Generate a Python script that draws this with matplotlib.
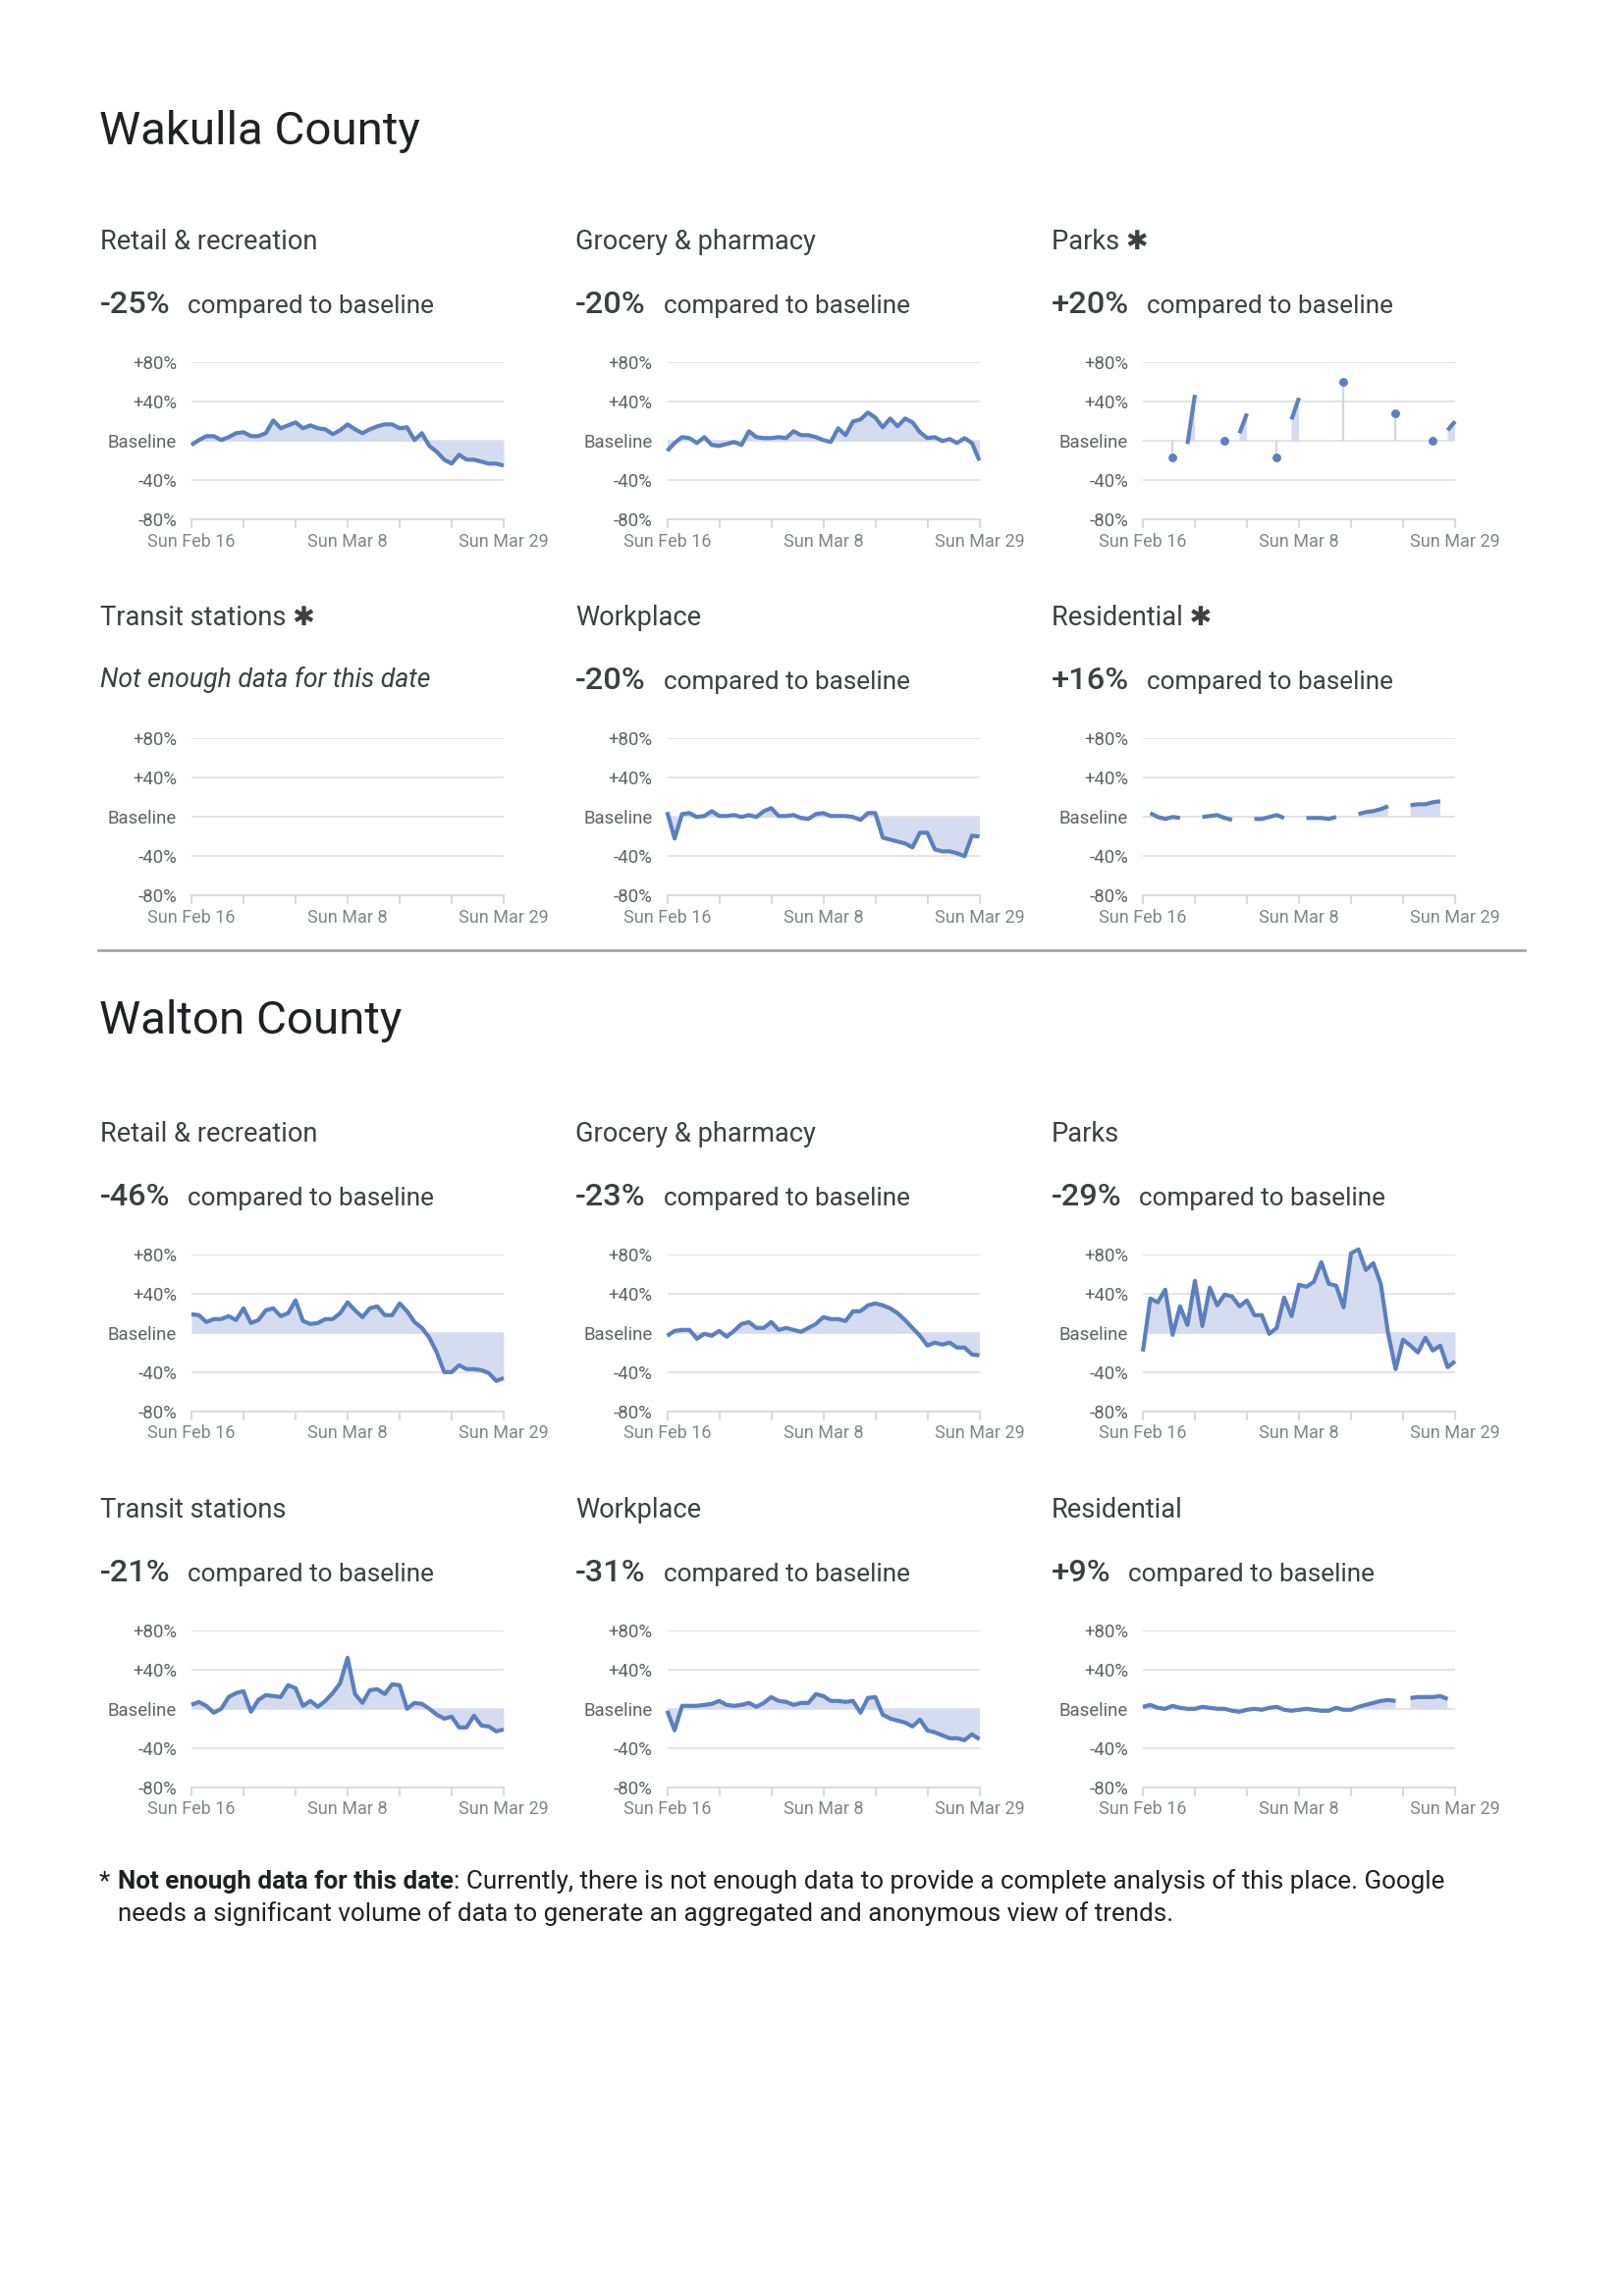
import matplotlib
matplotlib.use('Agg')
import matplotlib.pyplot as plt
from matplotlib.lines import Line2D
import numpy as np
import pandas as pd

nan = np.nan

# ---------------- data ----------------
dates = pd.date_range('2020-02-16', '2020-03-29', freq='D')
xtick_labels = ["Sun Feb 16", "", "", "Sun Mar 8", "", "", "Sun Mar 29"]
ytick_values = [80, 40, 0, -40, -80]
ytick_labels = ["+80%", "+40%", "Baseline", "-40%", "-80%"]

counties = ["Wakulla County", "Walton County"]
categories = ["Retail & recreation", "Grocery & pharmacy", "Parks",
              "Transit stations", "Workplace", "Residential"]

wakulla_flags = [False, False, True, True, False, True]
wakulla_headline = ["-25%", "-20%", "+20%", None, "-20%", "+16%"]
walton_flags = [False, False, False, False, False, False]
walton_headline = ["-46%", "-23%", "-29%", "-21%", "-31%", "+9%"]

wakulla_retail = [-4, 1, 5, 5, 1, 4, 8, 9, 5, 5, 8, 21, 13, 16, 19, 13, 16, 13, 12, 7,
                  11, 17, 12, 8, 12, 15, 17, 17, 13, 14, 1, 8, -5, -11, -19, -23, -14,
                  -19, -19, -21, -23, -23, -25]
wakulla_grocery = [-10, -2, 4, 3, -2, 4, -4, -5, -3, -1, -4, 10, 4, 3, 3, 4, 3, 10, 6, 6,
                   4, 1, -1, 13, 6, 20, 22, 29, 24, 14, 23, 15, 23, 19, 9, 3, 4, 0, 2,
                   -2, 3, -2, -20]
wakulla_parks = [nan, nan, nan, nan, -17, nan, -3, 47, nan, nan, nan, 0, nan, 8, 28,
                 nan, nan, nan, -17, nan, 22, 44, nan, nan, nan, nan, nan, 60, nan, nan,
                 nan, nan, nan, nan, 28, nan, nan, nan, nan, 0, nan, 11, 20]
wakulla_transit = None
wakulla_workplace = [5, -22, 3, 4, 0, 1, 6, 1, 1, 2, 0, 2, 0, 6, 9, 1, 1, 2, -1, -2,
                     3, 4, 1, 1, 1, 0, -3, 4, 4, -21, -23, -25, -27, -31, -16, -16, -33,
                     -35, -35, -37, -40, -19, -20]
wakulla_residential = [nan, 4, 0, -2, 0, -1, nan, nan, 0, 1, 2, -1, -3, nan, nan, -2, -2,
                       0, 2, -1, nan, nan, -1, -1, -1, -2, 0, nan, nan, 3, 5, 6, 8, 11,
                       nan, nan, 12, 13, 13, 15, 16, nan, nan]

walton_retail = [19, 18, 11, 14, 14, 17, 13, 25, 10, 13, 23, 25, 17, 20, 33, 12, 9, 10,
                 14, 14, 20, 31, 23, 16, 25, 27, 18, 18, 30, 22, 11, 5, -5, -20, -40,
                 -40, -33, -37, -37, -38, -41, -49, -46]
walton_grocery = [-3, 2, 3, 3, -6, -1, -3, 2, -4, 2, 9, 11, 5, 5, 11, 3, 5, 3, 1, 5, 9,
                  16, 14, 14, 12, 22, 22, 28, 30, 28, 25, 20, 13, 5, -3, -13, -10, -12,
                  -10, -15, -15, -22, -23]
walton_parks = [-19, 35, 31, 44, -2, 27, 8, 53, 7, 46, 28, 39, 37, 27, 33, 18, 18, -1, 5,
                36, 17, 49, 47, 52, 72, 50, 48, 26, 81, 85, 64, 71, 50, -1, -37, -7, -13,
                -20, -5, -18, -13, -35, -29]
walton_transit = [4, 7, 3, -4, 0, 12, 16, 18, -3, 9, 14, 13, 12, 24, 21, 3, 8, 2, 8, 16,
                  26, 52, 15, 6, 19, 20, 15, 25, 24, 0, 6, 5, 0, -6, -10, -8, -19, -19,
                  -7, -17, -18, -23, -21]
walton_workplace = [-2, -22, 3, 3, 3, 4, 5, 8, 4, 3, 4, 6, 2, 6, 12, 8, 7, 4, 6, 6, 15,
                    13, 8, 8, 7, 8, -4, 11, 12, -6, -10, -12, -14, -18, -11, -22, -24,
                    -27, -30, -30, -32, -26, -31]
walton_residential = [2, 4, 1, 0, 3, 1, 0, 0, 2, 1, 0, 0, -2, -3, -1, 0, -1, 1, 2, -1,
                      -2, -1, 0, -1, -2, -2, 1, -1, -1, 2, 4, 6, 8, 9, 8, nan, 11, 12, 12,
                      12, 13, 10, nan]

wakulla_series = [wakulla_retail, wakulla_grocery, wakulla_parks, wakulla_transit,
                  wakulla_workplace, wakulla_residential]
walton_series = [walton_retail, walton_grocery, walton_parks, walton_transit,
                 walton_workplace, walton_residential]

footnote_bold = "Not enough data for this date"
footnote_rest1 = (": Currently, there is not enough data to provide a complete analysis "
                  "of this place. Google")
footnote_line2 = ("needs a significant volume of data to generate an aggregated and "
                  "anonymous view of trends.")
no_data_text = "Not enough data for this date"

# ---------------- style ----------------
W, H, DPI = 1653, 2339, 200
LINE = '#5b80c1'
FILL = '#d6dcf0'
STEM = '#cfd6ec'
GRID = '#dadce0'
DARK = '#202124'
TXT = '#3c4043'
YLAB = '#5f6368'
XLAB = '#80868b'
FAM = ['Roboto', 'DejaVu Sans']

plt.rcParams['font.family'] = FAM

fig = plt.figure(figsize=(W / DPI, H / DPI), dpi=DPI)
fig.patch.set_facecolor('white')
renderer = fig.canvas.get_renderer()


def fx(x):
    return x / W


def fy(y):
    return 1 - y / H


def put(x, y, s, **kw):
    return fig.text(fx(x), fy(y), s, va='baseline', ha='left', **kw)


def text_width(t):
    return t.get_window_extent(renderer=renderer).width


COL_X = [0, 484.5, 969]
AX_X0, AX_W, AX_H = 195, 318, 160
SECTION_OFF = [0, 908.5]
ROW_TOP = [369.3, 752.3]


def draw_chart(ax, vals):
    for g in [80, 40, 0, -40]:
        ax.axhline(g, color=GRID, lw=0.55, zorder=0)
    if vals is not None:
        y = np.array(vals, dtype=float)
        ok = ~np.isnan(y)
        ax.fill_between(dates, y, 0, where=ok, color=FILL, lw=0, zorder=1)
        ax.plot(dates, y, color=LINE, lw=1.5, zorder=3, clip_on=False,
                solid_capstyle='butt', solid_joinstyle='round')
        prev = np.r_[False, ok[:-1]]
        nxt = np.r_[ok[1:], False]
        iso = ok & ~prev & ~nxt
        if iso.any():
            ax.vlines(dates[iso], 0, y[iso], color=STEM, lw=0.8, zorder=2)
            ax.plot(dates[iso], y[iso], 'o', color=LINE, ms=3.2, mew=0, zorder=4,
                    clip_on=False)
    ax.set_xlim(dates[0], dates[-1])
    ax.set_ylim(-80, 80)
    ax.set_yticks(ytick_values)
    ax.set_yticklabels(ytick_labels)
    ax.set_xticks(dates[::7])
    ax.set_xticklabels(xtick_labels)
    ax.tick_params(axis='y', length=0, pad=5.4, labelsize=6.7, labelcolor=YLAB)
    ax.tick_params(axis='x', length=3.2, width=0.8, color=GRID, pad=1.6,
                   labelsize=6.5, labelcolor=XLAB, direction='out')
    for s in ['top', 'right', 'left']:
        ax.spines[s].set_visible(False)
    ax.spines['bottom'].set_color(GRID)
    ax.spines['bottom'].set_linewidth(0.8)
    ax.patch.set_alpha(0)


sections = [
    (counties[0], wakulla_flags, wakulla_headline, wakulla_series),
    (counties[1], walton_flags, walton_headline, walton_series),
]

for si, (county, flags, heads, series) in enumerate(sections):
    off = SECTION_OFF[si]
    put(100.7, 147 + off - 2 * si, county, fontsize=17.1, color=DARK)
    for k in range(6):
        r, c = divmod(k, 3)
        top = ROW_TOP[r] + off
        cx = 101.7 + COL_X[c]
        title = categories[k] + (" \u2731" if flags[k] else "")
        put(cx, top - 115, title, fontsize=9.8, color=TXT, family=FAM)
        if heads[k] is None:
            put(cx, top - 52, no_data_text, fontsize=9.6, color=TXT, style='italic')
        else:
            t = put(cx, top - 50, heads[k], fontsize=11.7, color=TXT, fontweight='medium')
            wpx = text_width(t)
            put(cx + wpx + 18, top - 50, "compared to baseline", fontsize=9.4, color=TXT)
        ax = fig.add_axes([fx(AX_X0 + COL_X[c]), fy(top + AX_H), AX_W / W, AX_H / H])
        draw_chart(ax, series[k])

# separator
fig.add_artist(Line2D([fx(100), fx(1553)], [fy(968), fy(968)], color='#9e9e9e', lw=0.9))

# footnote
FN = 9.35
put(101, 1924, "*", fontsize=FN, color=DARK)
tb = put(120, 1924, footnote_bold, fontsize=FN, color=DARK, fontweight='bold')
put(120 + text_width(tb), 1924, footnote_rest1, fontsize=FN, color=DARK)
put(120, 1957, footnote_line2, fontsize=FN, color=DARK)

fig.savefig('out.png', dpi=DPI, facecolor='white')
